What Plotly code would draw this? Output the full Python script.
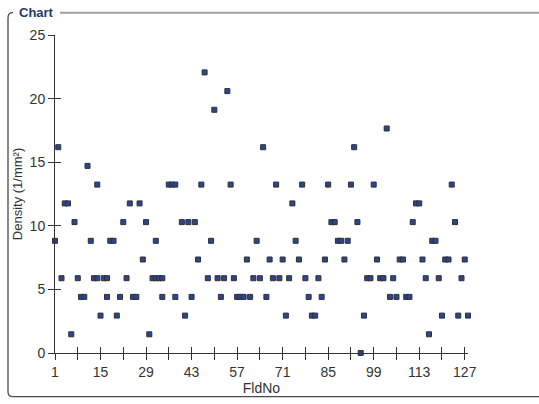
import plotly.graph_objects as go

# ---- data ----
fld_no = [1, 2, 3, 4, 5, 6, 7, 8, 9, 10,
          11, 12, 13, 14, 14, 15, 16, 17, 17, 18,
          19, 20, 21, 22, 23, 24, 25, 26, 27, 28,
          29, 30, 31, 32, 32, 33, 34, 34, 36, 37,
          38, 38, 40, 41, 42, 43, 44, 45, 46, 47,
          48, 49, 50, 51, 52, 53, 54, 55, 56, 57,
          58, 59, 60, 61, 62, 63, 64, 65, 66, 67,
          68, 69, 70, 71, 72, 73, 74, 75, 76, 77,
          78, 79, 80, 81, 82, 83, 84, 85, 86, 87,
          88, 89, 90, 91, 92, 93, 94, 95, 96, 97,
          98, 99, 100, 101, 102, 103, 104, 105, 106, 107,
          108, 109, 110, 111, 112, 113, 114, 115, 116, 117,
          118, 119, 120, 121, 122, 123, 124, 125, 126, 127,
          128]
density = [8.82, 16.18, 5.88, 11.76, 11.76, 1.47, 10.29, 5.88, 4.41, 4.41,
           14.71, 8.82, 5.88, 5.88, 13.24, 2.94, 5.88, 5.88, 4.41, 8.82,
           8.82, 2.94, 4.41, 10.29, 5.88, 11.76, 4.41, 4.41, 11.76, 7.35,
           10.29, 1.47, 5.88, 5.88, 8.82, 5.88, 5.88, 4.41, 13.24, 13.24,
           13.24, 4.41, 10.29, 2.94, 10.29, 4.41, 10.29, 7.35, 13.24, 22.06,
           5.88, 8.82, 19.12, 5.88, 4.41, 5.88, 20.59, 13.24, 5.88, 4.41,
           4.41, 4.41, 7.35, 4.41, 5.88, 8.82, 5.88, 16.18, 4.41, 7.35,
           5.88, 13.24, 5.88, 7.35, 2.94, 5.88, 11.76, 8.82, 7.35, 13.24,
           5.88, 4.41, 2.94, 2.94, 5.88, 4.41, 7.35, 13.24, 10.29, 10.29,
           8.82, 8.82, 7.35, 8.82, 13.24, 16.18, 10.29, 0.0, 2.94, 5.88,
           5.88, 13.24, 7.35, 5.88, 5.88, 17.65, 4.41, 5.88, 4.41, 7.35,
           7.35, 4.41, 4.41, 10.29, 11.76, 11.76, 7.35, 5.88, 1.47, 8.82,
           8.82, 5.88, 2.94, 7.35, 7.35, 13.24, 10.29, 2.94, 5.88, 7.35,
           2.94]

x_tick_vals = [1, 8, 15, 22, 29, 36, 43, 50, 57, 64, 71, 78, 85, 92, 99, 106, 113, 120, 127]
x_tick_text = ["1", "", "15", "", "29", "", "43", "", "57", "", "71", "", "85", "", "99", "", "113", "", "127"]
y_tick_vals = [0, 5, 10, 15, 20, 25]

chart_title = "Chart"
x_title = "FldNo"
y_title = "Density (1/mm²)"

# ---- layout geometry (pixels) ----
W, H = 539, 404
PL, PR, PT, PB = 55, 468, 35, 356  # plot area edges


def px(x):
    return (x - PL) / (PR - PL)


def py(y):
    return (PB - y) / (PB - PT)


FONT = "Arial, 'Liberation Sans', sans-serif"
AXC = "#333333"

fig = go.Figure()
fig.add_trace(go.Scatter(
    x=fld_no, y=density, mode="markers",
    marker=dict(symbol="square", size=5, color="#2b4592",
                line=dict(color="#303030", width=1)),
    cliponaxis=False, showlegend=False,
))
# invisible trace for the overlaid axes (inside half of the crossing ticks)
fig.add_trace(go.Scatter(x=[], y=[], xaxis="x2", yaxis="y2", showlegend=False))

common_x = dict(range=[1, 128], tickvals=x_tick_vals, showgrid=False, zeroline=False,
                tickcolor=AXC, ticklen=6, tickwidth=1)
common_y = dict(range=[0, 25], tickvals=y_tick_vals, showgrid=False, zeroline=False,
                tickcolor=AXC, ticklen=6, tickwidth=1)

fig.update_layout(
    width=W, height=H,
    margin=dict(l=PL, r=W - PR, t=PT, b=H - PB, pad=0),
    paper_bgcolor="white", plot_bgcolor="white",
    font=dict(family=FONT, size=14, color="#333333"),
    xaxis=dict(**common_x, ticktext=x_tick_text, ticks="outside",
               showline=True, linecolor=AXC, linewidth=1,
               tickfont=dict(size=14, color="#333333"),
               title=dict(text=x_title, standoff=2, font=dict(size=14, color="#333333"))),
    yaxis=dict(**common_y, ticks="outside", showline=True, linecolor=AXC, linewidth=1,
               tickfont=dict(size=14, color="#333333"),
               title=dict(text=y_title, standoff=4, font=dict(size=13, color="#333333"))),
    xaxis2=dict(**common_x, overlaying="x", matches="x", anchor="y", side="bottom",
                ticks="inside", showticklabels=False, showline=False),
    yaxis2=dict(**common_y, overlaying="y", matches="y", anchor="x", side="left",
                ticks="inside", showticklabels=False, showline=False),
)

# group-box frame with rounded corners
L, R, T, B, r = 8, 545, 12.5, 400, 5
frame_dark = (f"M {px(L+r)},{py(T)} Q {px(L)},{py(T)} {px(L)},{py(T+r)} "
              f"L {px(L)},{py(B-r)} Q {px(L)},{py(B)} {px(L+r)},{py(B)} "
              f"L {px(R)},{py(B)}")
fig.add_shape(type="path", path=frame_dark, xref="paper", yref="paper",
              line=dict(color="#4a4a4a", width=1.3))
frame_top = f"M {px(60)},{py(T)} L {px(R)},{py(T)}"
fig.add_shape(type="path", path=frame_top, xref="paper", yref="paper",
              line=dict(color="#a0a0a0", width=2))

fig.add_annotation(text=f"<b>{chart_title}</b>", xref="paper", yref="paper",
                   x=px(17), y=py(12), xanchor="left", yanchor="middle",
                   showarrow=False, font=dict(family=FONT, size=13, color="#1f3a6b"))

fig.write_html("out.html",
               config={"displayModeBar": False},
               post_script="document.body.style.margin='0';document.body.style.overflow='hidden';")
